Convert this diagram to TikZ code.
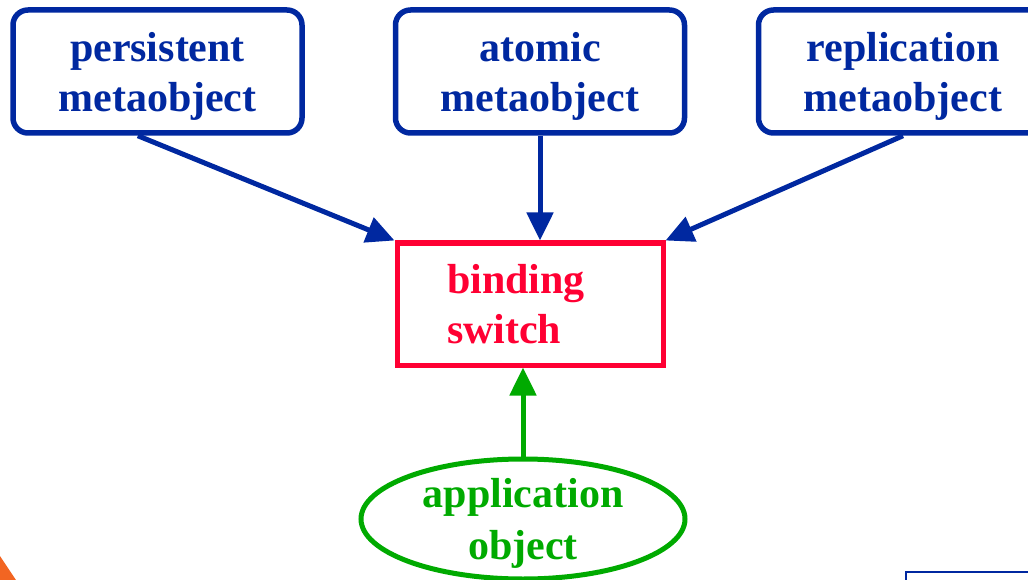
\documentclass[tikz,border=0pt]{standalone}
\usepackage{fontspec}
\setmainfont{Liberation Serif}
\usetikzlibrary{arrows.meta,shapes.geometric}

\definecolor{metablue}{RGB}{0,40,160}
\definecolor{switchred}{RGB}{255,0,51}
\definecolor{appgreen}{RGB}{0,170,0}
\definecolor{cornerorange}{RGB}{242,101,34}

\begin{document}
\begin{tikzpicture}[x=1pt,y=-1pt,
	mstyle/.style={draw=metablue, text=metablue, line width=5.5pt, rounded corners=15pt,
	minimum width=289pt, minimum height=123pt, align=center, inner sep=0pt, text depth=0pt,
	font=\fontsize{42}{50}\selectfont\bfseries},
	sstyle/.style={draw=switchred, text=switchred, line width=5pt,
	text width=166pt, inner xsep=50pt, minimum height=122pt, align=left,
	font=\fontsize{42}{50}\selectfont\bfseries},
	astyle/.style={ellipse, draw=appgreen, text=appgreen, line width=5pt,
	minimum width=324pt, minimum height=120pt, inner sep=0pt, align=center, text depth=0pt,
	font=\fontsize{42}{52}\selectfont\bfseries},
	arr/.style={-{Triangle[length=28pt,width=26pt]}, line width=5pt}
	]
	\clip (0,0) rectangle (1028,580);

	% slide decorations
	\fill[cornerorange] (0,556) -- (16,580) -- (0,580) -- cycle;
	\draw[metablue, line width=1.5pt] (906,572) rectangle (1100,700);

	\node[mstyle] (pm) at (157.5,71.5) {persistent\\metaobject};
	\node[mstyle] (am) at (540,71.5) {atomic\\metaobject};
	\node[mstyle] (rm) at (903,71.5) {replication\\metaobject};
	\node[sstyle] (bs) at (530,304) {binding\\switch};
	\node[astyle] (ao) at (523,519) {application\\object};

	\draw[arr,metablue] (pm.-107) to (bs.north west);
	\draw[arr,metablue] (am.south) to (am.south |- bs.north);
	\draw[arr,metablue] (rm.south) to (bs.north east);
	\draw[arr,appgreen] (ao.north) to (ao.north |- bs.south);
\end{tikzpicture}
\end{document}
